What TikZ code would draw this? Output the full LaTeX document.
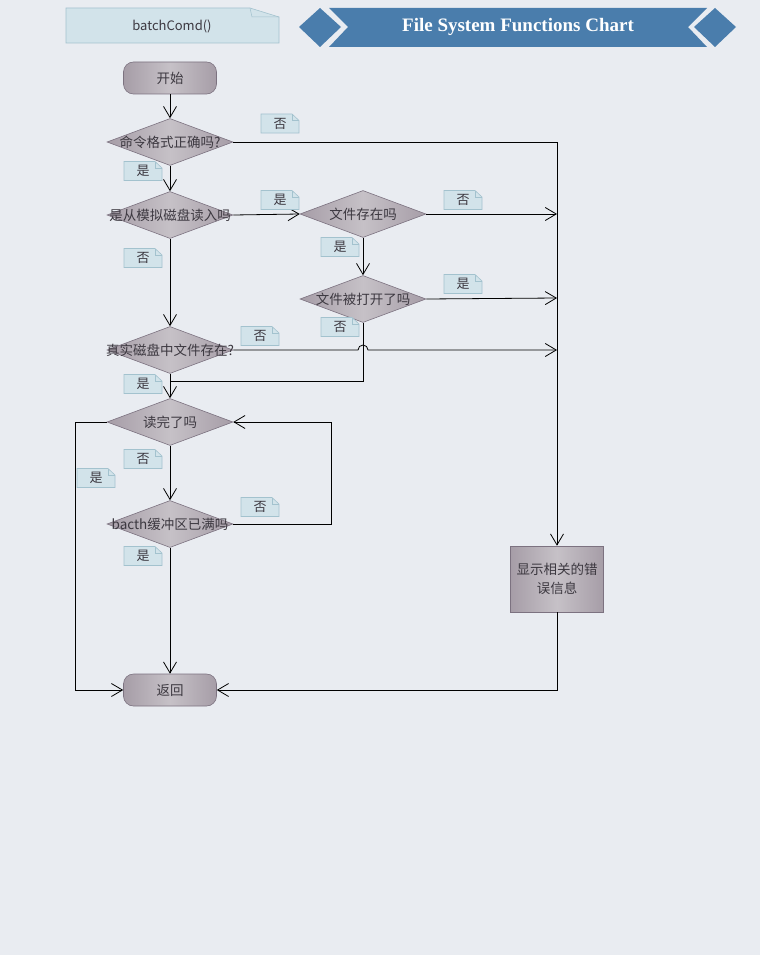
\documentclass[tikz,border=0pt]{standalone}
\usepackage{fontspec}
\setmainfont{Noto Sans CJK SC}
\newfontfamily\titlefont{Liberation Serif}
\usetikzlibrary{arrows.meta,shapes.geometric,calc}
\definecolor{bg}{HTML}{E9ECF1}
\definecolor{banner}{HTML}{4A7DAC}
\definecolor{notefill}{HTML}{D2E3EA}
\definecolor{noteedge}{HTML}{A3C2CE}
\definecolor{shadeedge}{HTML}{A69DA7}
\definecolor{shademid}{HTML}{C6C1C7}
\definecolor{shapeborder}{HTML}{7C7280}
\definecolor{txt}{HTML}{3C3840}
\tikzset{
  x=1pt,y=-1pt,
  conn/.style={draw=black,line width=0.8pt},
  arr/.style={conn,-{Straight Barb[length=11pt,width=13pt,line width=0.8pt]}},
  grad/.style={left color=shadeedge,right color=shadeedge,middle color=shademid,draw=shapeborder,line width=0.6pt},
  decision/.style={grad,shape=diamond,minimum width=126pt,minimum height=47pt,inner sep=0pt},
  term/.style={grad,rounded corners=10pt,minimum width=93pt,minimum height=32pt,inner sep=0pt},
  procbox/.style={grad,minimum width=93pt,minimum height=66pt,inner sep=0pt},
  ntext/.style={text=txt,font=\fontsize{13.5}{19}\selectfont,inner sep=0pt},
  lblbox/.style={minimum width=38pt,minimum height=19pt,inner sep=0pt,text=txt,font=\fontsize{13}{14}\selectfont},
  lbledge/.style={draw=noteedge,line width=0.6pt,fill=notefill},
  foldedge/.style={draw=noteedge,line width=0.5pt}
}
\newcommand\lbl[3]{%
  \path[lbledge] ($(#2)+(-19,-9.5)$) -- ($(#2)+(12,-9.5)$) -- ($(#2)+(19,-3)$) -- ($(#2)+(19,9.5)$) -- ($(#2)+(-19,9.5)$) -- cycle;
  \draw[foldedge] ($(#2)+(12,-9.5)$) -- ($(#2)+(12,-3)$) -- ($(#2)+(19,-3)$);
  \node[lblbox] (#1) at (#2) {#3};}
\begin{document}
\begin{tikzpicture}
\useasboundingbox (0,0) rectangle (760,955);
\fill[bg] (0,0) rectangle (760,955);

% header note
\path[lbledge] (66,8) -- (250,8) -- (279,17) -- (279,43) -- (66,43) -- cycle;
\draw[foldedge] (250,8) -- (252,17) -- (279,17);
\node[text=txt,font=\fontsize{13}{15}\selectfont] (hdr) at (172,26) {batchComd()};

% banner
\fill[banner] (299,27) -- (320,8) -- (341,27) -- (320,47) -- cycle;
\fill[banner] (329,8) -- (707,8) -- (688,27) -- (707,47) -- (329,47) -- (348,27) -- cycle;
\fill[banner] (694,27) -- (715,8) -- (736,27) -- (715,47) -- cycle;
\node[text=white,font=\titlefont\bfseries\fontsize{19}{22}\selectfont] (title) at (518,27) {File System Functions Chart};

% nodes
\node[term] (start) at (170,78) {};
\node[ntext] at (start) {开始};
\node[decision] (d1) at (170,142) {};
\node[ntext] at (d1) {命令格式正确吗?};
\node[decision] (d2) at (170,215) {};
\node[ntext] at (d2) {是从模拟磁盘读入吗};
\node[decision] (d3) at (363,214) {};
\node[ntext] at (d3) {文件存在吗};
\node[decision] (d4) at (363,299) {};
\node[ntext] at (d4) {文件被打开了吗};
\node[decision] (d5) at (170,350) {};
\node[ntext] at (d5) {真实磁盘中文件存在?};
\node[decision] (d6) at (170,422) {};
\node[ntext] at (d6) {读完了吗};
\node[decision] (d7) at (170,524) {};
\node[ntext] at (d7) {bacth缓冲区已满吗};
\node[term] (ret) at (170,690) {};
\node[ntext] at (ret) {返回};
\node[procbox] (err) at (557,579) {};
\node[ntext,align=center] at (err) {显示相关的错\\误信息};

% coordinates
\coordinate (c1) at (557,142);
\coordinate (c3) at (557,214);
\coordinate (c4) at (557,298);
\coordinate (c5) at (557,350);
\coordinate (h1) at (358,350);
\coordinate (b4) at (363,381);
\coordinate (m56) at (170,381);
\coordinate (l6) at (75,422);
\coordinate (l6b) at (75,690);
\coordinate (r7) at (331,524);
\coordinate (r6) at (331,422);

% connectors
\draw[arr] (start) -- (d1);
\draw[arr] (d1.east) -- (c1) -- (err.north);
\draw[arr] (d1) -- (d2);
\draw[arr] (d2.east) -- (d3.west);
\draw[arr] (d3.east) -- (c3);
\draw[arr] (d3) -- (d4);
\draw[arr] (d4.east) -- (c4);
\draw[arr] (d2) -- (d5);
\draw[arr] (d5.east) -- (h1) arc[start angle=180,end angle=360,radius=5] -- (c5);
\draw[conn] (d4.south) -- (b4) -- (m56);
\draw[arr] (d5) -- (d6);
\draw[arr] (d6) -- (d7);
\draw[arr] (d6.west) -- (l6) -- (l6b) -- (ret.west);
\draw[arr] (d7.east) -- (r7) -- (r6) -- (d6.east);
\draw[arr] (d7) -- (ret);
\draw[arr] (err.south) |- (ret.east);

% labels
\lbl{n1}{280,123.5}{否}
\lbl{y1}{143,171}{是}
\lbl{y2}{280,200}{是}
\lbl{n2}{143,258}{否}
\lbl{n3}{463,200}{否}
\lbl{y3}{340,247}{是}
\lbl{y4}{463,284}{是}
\lbl{n4}{340,327}{否}
\lbl{n5}{260,336}{否}
\lbl{y5}{143,384}{是}
\lbl{n6}{143,459}{否}
\lbl{y6}{96,478}{是}
\lbl{n7}{260,507}{否}
\lbl{y7}{143,556}{是}
\end{tikzpicture}
\end{document}
